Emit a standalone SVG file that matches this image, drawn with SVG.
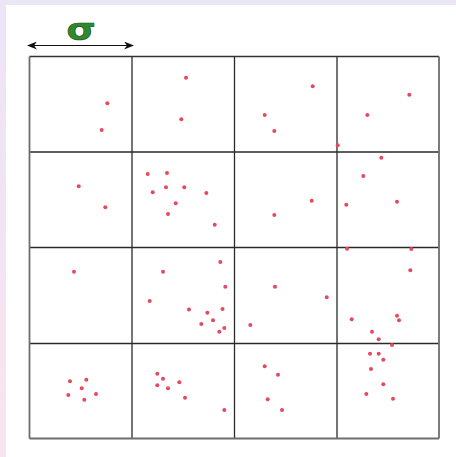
<svg xmlns="http://www.w3.org/2000/svg" width="456" height="457" viewBox="0 0 456 457">
<defs>
<linearGradient id="lb" x1="0" y1="0" x2="0" y2="1">
<stop offset="0" stop-color="#ebe5f6"/>
<stop offset="1" stop-color="#f8e4ec"/>
</linearGradient>
<marker id="ah" viewBox="0 0 10 8" refX="9" refY="4" markerWidth="10" markerHeight="8" markerUnits="userSpaceOnUse" orient="auto-start-reverse">
<path d="M0,0 L10,4 L0,8 L3,4 z" fill="#111"/>
</marker>
<style>
.dot{fill:#e8485e}
.in{stroke:#2a2a2a;stroke-width:1.3;fill:none}
.out{stroke:#6e6e6e;stroke-width:1.8;fill:none}
</style>
</defs>
<rect width="456" height="457" fill="#ffffff"/>
<rect x="0" y="0" width="456" height="5" fill="#ebe6f6"/>
<rect x="0" y="0" width="6" height="457" fill="url(#lb)"/>
<g id="sigma">
<text x="81" y="40" font-family="DejaVu Sans, sans-serif" font-size="30" font-weight="bold" fill="#2f8a2f" stroke="#1d4d1d" stroke-width="0.6" text-anchor="middle" transform="translate(81 0) scale(1.25 1) translate(-81 0)">σ</text>
</g>
<g id="connectors">
<line x1="28" y1="45.5" x2="133" y2="45.5" stroke="#111" stroke-width="1.2" marker-start="url(#ah)" marker-end="url(#ah)"/>
</g>
<g id="grid">
<line class="in" x1="132" y1="56.5" x2="132" y2="438.5"/>
<line class="in" x1="234.5" y1="56.5" x2="234.5" y2="438.5"/>
<line class="in" x1="337" y1="56.5" x2="337" y2="438.5"/>
<line class="in" x1="29.5" y1="152" x2="439" y2="152"/>
<line class="in" x1="29.5" y1="247.5" x2="439" y2="247.5"/>
<line class="in" x1="29.5" y1="343.5" x2="439" y2="343.5"/>
<line x1="29.5" y1="56.5" x2="439" y2="56.5" stroke="#333" stroke-width="1.3"/>
<line x1="29.5" y1="56.5" x2="29.5" y2="438.5" class="out"/>
<line x1="29.5" y1="438.5" x2="439" y2="438.5" class="out"/>
<line x1="439" y1="56.5" x2="439" y2="438.5" class="out"/>
</g>
<g id="points">
<circle class="dot" cx="107.3" cy="103.3" r="2"/>
<circle class="dot" cx="101.7" cy="130" r="2"/>
<circle class="dot" cx="186" cy="77.7" r="2"/>
<circle class="dot" cx="181.3" cy="119.3" r="2"/>
<circle class="dot" cx="312.7" cy="86.3" r="2"/>
<circle class="dot" cx="264.7" cy="115" r="2"/>
<circle class="dot" cx="274.3" cy="131" r="2"/>
<circle class="dot" cx="337.7" cy="145.3" r="2"/>
<circle class="dot" cx="409.3" cy="94.7" r="2"/>
<circle class="dot" cx="367.3" cy="115" r="2"/>
<circle class="dot" cx="381.3" cy="157.8" r="2"/>
<circle class="dot" cx="78.7" cy="186.3" r="2"/>
<circle class="dot" cx="105.3" cy="207.3" r="2"/>
<circle class="dot" cx="147.7" cy="174" r="2"/>
<circle class="dot" cx="167" cy="173" r="2"/>
<circle class="dot" cx="152.7" cy="192.3" r="2"/>
<circle class="dot" cx="166" cy="187.3" r="2"/>
<circle class="dot" cx="184.3" cy="187.3" r="2"/>
<circle class="dot" cx="206.3" cy="193" r="2"/>
<circle class="dot" cx="175.7" cy="203.3" r="2"/>
<circle class="dot" cx="168" cy="214" r="2"/>
<circle class="dot" cx="214.7" cy="224.7" r="2"/>
<circle class="dot" cx="74" cy="271.7" r="2"/>
<circle class="dot" cx="163" cy="271.7" r="2"/>
<circle class="dot" cx="220.3" cy="262" r="2"/>
<circle class="dot" cx="225.3" cy="286.7" r="2"/>
<circle class="dot" cx="149.7" cy="301" r="2"/>
<circle class="dot" cx="189" cy="309.5" r="2"/>
<circle class="dot" cx="222.5" cy="309" r="2"/>
<circle class="dot" cx="207.3" cy="312.7" r="2"/>
<circle class="dot" cx="201.3" cy="324" r="2"/>
<circle class="dot" cx="213" cy="320.3" r="2"/>
<circle class="dot" cx="219.3" cy="331.7" r="2"/>
<circle class="dot" cx="224.3" cy="328" r="2"/>
<circle class="dot" cx="363.3" cy="176" r="2"/>
<circle class="dot" cx="346.3" cy="204.7" r="2"/>
<circle class="dot" cx="397" cy="201.7" r="2"/>
<circle class="dot" cx="311.7" cy="200.7" r="2"/>
<circle class="dot" cx="274.3" cy="215" r="2"/>
<circle class="dot" cx="347" cy="248.7" r="2"/>
<circle class="dot" cx="411.3" cy="249" r="2"/>
<circle class="dot" cx="410.3" cy="270.3" r="2"/>
<circle class="dot" cx="275" cy="286.7" r="2"/>
<circle class="dot" cx="326.7" cy="297.3" r="2"/>
<circle class="dot" cx="70" cy="381.3" r="2"/>
<circle class="dot" cx="86.3" cy="379.7" r="2"/>
<circle class="dot" cx="81.7" cy="388.3" r="2"/>
<circle class="dot" cx="68.3" cy="395" r="2"/>
<circle class="dot" cx="84.3" cy="399.7" r="2"/>
<circle class="dot" cx="96" cy="394" r="2"/>
<circle class="dot" cx="157.3" cy="373.7" r="2"/>
<circle class="dot" cx="163" cy="378.7" r="2"/>
<circle class="dot" cx="157.3" cy="385.3" r="2"/>
<circle class="dot" cx="168" cy="388.3" r="2"/>
<circle class="dot" cx="179.3" cy="382.3" r="2"/>
<circle class="dot" cx="185" cy="397.7" r="2"/>
<circle class="dot" cx="224.3" cy="410" r="2"/>
<circle class="dot" cx="250.3" cy="325" r="2"/>
<circle class="dot" cx="351.7" cy="319.3" r="2"/>
<circle class="dot" cx="397" cy="315.7" r="2"/>
<circle class="dot" cx="399" cy="320.3" r="2"/>
<circle class="dot" cx="372" cy="331.7" r="2"/>
<circle class="dot" cx="378.7" cy="339.3" r="2"/>
<circle class="dot" cx="392" cy="345" r="2"/>
<circle class="dot" cx="370" cy="353.7" r="2"/>
<circle class="dot" cx="378.7" cy="353.7" r="2"/>
<circle class="dot" cx="383.3" cy="359.7" r="2"/>
<circle class="dot" cx="371" cy="369" r="2"/>
<circle class="dot" cx="383.3" cy="384.3" r="2"/>
<circle class="dot" cx="366.3" cy="394" r="2"/>
<circle class="dot" cx="393" cy="398.7" r="2"/>
<circle class="dot" cx="264.7" cy="366.3" r="2"/>
<circle class="dot" cx="278" cy="374.7" r="2"/>
<circle class="dot" cx="267.7" cy="399.3" r="2"/>
<circle class="dot" cx="282" cy="410" r="2"/>
</g>
</svg>
